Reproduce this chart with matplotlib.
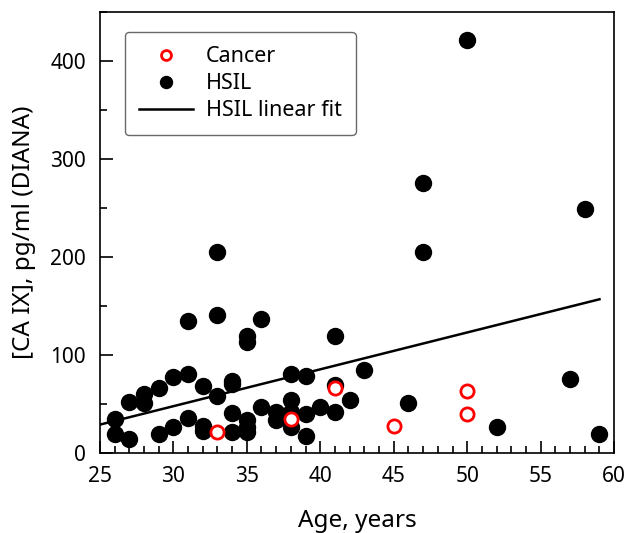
import numpy as np
import matplotlib.pyplot as plt
from matplotlib.ticker import MultipleLocator

plt.rcParams['font.family'] = ['Noto Sans', 'DejaVu Sans']

# HSIL samples (age, concentration)
hsil_age = [26, 26, 27, 27, 28, 28, 29, 29, 30, 30,
            31, 31, 31, 32, 32, 32, 33, 33, 33,
            34, 34, 34, 34, 35, 35, 35, 35, 35,
            36, 36, 37, 37, 38, 38, 38, 38, 39, 39, 39,
            40, 41, 41, 41, 42, 43, 46, 47, 47, 50, 52, 57, 58, 59]
hsil_val = [35, 19, 52, 14, 60, 51, 66, 19, 78, 27,
            135, 81, 36, 68, 28, 23, 205, 141, 58,
            74, 70, 41, 22, 119, 113, 34, 27, 21,
            137, 47, 42, 34, 81, 54, 42, 27, 79, 40, 17,
            47, 119, 69, 42, 54, 85, 51, 276, 205, 422, 27, 76, 249, 19]

# Cancer samples
cancer_age = [33, 38, 41, 45, 50, 50]
cancer_val = [22, 35, 66, 28, 63, 40]

# HSIL linear fit
fit_age = [25, 59]
fit_val = [29, 157]

fig = plt.figure(figsize=(6.28, 5.33), dpi=100)
ax = fig.add_axes([0.159, 0.150, 0.819, 0.827])

ax.plot(hsil_age, hsil_val, 'o', color='black', markersize=11.5, label='HSIL', zorder=2)
ax.plot(cancer_age, cancer_val, 'o', markerfacecolor='white', markeredgecolor='red',
        markeredgewidth=2, markersize=9.5, label='Cancer', zorder=3)
ax.plot(fit_age, fit_val, '-', color='black', linewidth=1.8, label='HSIL linear fit', zorder=4)

ax.set_xlim(25, 60)
ax.set_ylim(0, 450)
ax.xaxis.set_major_locator(MultipleLocator(5))
ax.xaxis.set_minor_locator(MultipleLocator(1))
ax.yaxis.set_major_locator(MultipleLocator(100))
ax.yaxis.set_minor_locator(MultipleLocator(50))
ax.tick_params(which='both', direction='in', labelsize=15, width=1.2)
ax.tick_params(which='major', length=9)
ax.tick_params(which='minor', length=5)
ax.tick_params(axis='x', pad=9)
ax.tick_params(axis='y', pad=10)
for s in ax.spines.values():
    s.set_linewidth(1.2)

ax.set_xlabel('Age, years', fontsize=17.5, labelpad=16)
ax.set_ylabel('[CA IX], pg/ml (DIANA)', fontsize=17.5, labelpad=10)

h, l = ax.get_legend_handles_labels()
order = [1, 0, 2]
leg = ax.legend([h[i] for i in order], [l[i] for i in order], loc='upper left',
                bbox_to_anchor=(0.049, 0.955), borderaxespad=0, fontsize=15.5,
                markerscale=0.75, frameon=True, fancybox=True, handlelength=2.5,
                borderpad=0.65, labelspacing=0.28, handletextpad=0.6)
leg.get_frame().set_edgecolor('#444444')
leg.get_frame().set_linewidth(1.0)

fig.savefig('out.png', dpi=100)
